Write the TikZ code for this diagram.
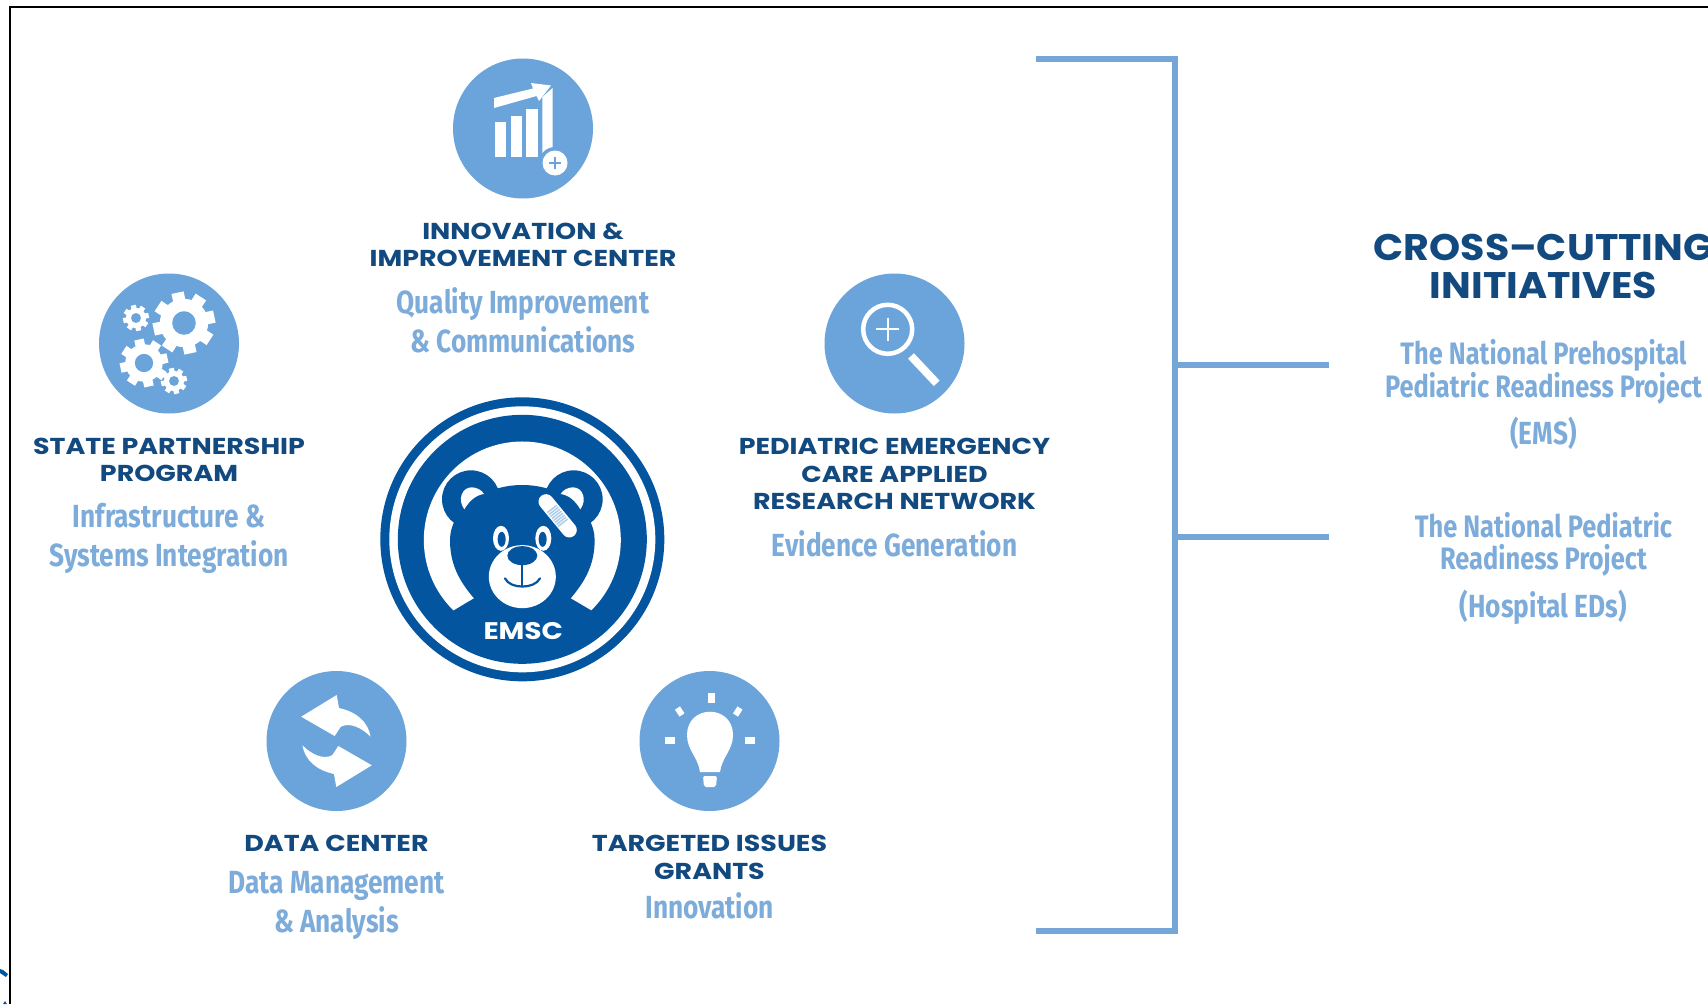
\documentclass[tikz,border=0pt]{standalone}
\usepackage{fontspec}
\newfontfamily\headfont[FakeStretch=1.17]{Poppins}
\newfontfamily\bigfont[FakeStretch=1.07]{Poppins}
\newfontfamily\subfont[FakeStretch=0.82]{Fira Sans}
\definecolor{discblue}{HTML}{6BA4DA}
\definecolor{linkblue}{HTML}{74A6D8}
\definecolor{headblue}{HTML}{12497F}
\definecolor{subblue}{HTML}{7DACDB}
\definecolor{logoblue}{HTML}{04559F}
\tikzset{
  x=1pt,y=-1pt,
  disc/.style={circle,fill=discblue,inner sep=0pt,minimum size=140pt},
  headtext/.style={text=headblue,align=center,inner sep=0pt,font=\headfont\bfseries\fontsize{23}{27.5}\selectfont},
  bighead/.style={text=headblue,align=center,inner sep=0pt,font=\bigfont\bfseries\fontsize{37}{38}\selectfont},
  subtext/.style={text=subblue,align=center,inner sep=0pt,font=\subfont\bfseries\fontsize{32}{39}\selectfont},
  crosstext/.style={text=subblue,align=center,inner sep=0pt,font=\subfont\bfseries\fontsize{31}{32}\selectfont},
  bracket/.style={draw=linkblue,line width=5.5pt},
  gear/.pic={
    \fill[white] (0,0) circle[radius=0.78*\gearR pt];
    \foreach \a in {1,...,\gearN}{
      \fill[white,rotate=\a*360/\gearN+12] (0.7*\gearR pt,-0.2*\gearR pt) rectangle (\gearR pt,0.2*\gearR pt);
    }
    \fill[discblue] (0,0) circle[radius=0.38*\gearR pt];
  }
}
\begin{document}
\begin{tikzpicture}
\path[use as bounding box,clip] (0,0) rectangle (1708,1004);
\fill[white] (0,0) rectangle (1708,1004);
% frame remnants
\draw[black,line width=2.4pt] (10,1004) -- (10,7) -- (1708,7);
\fill[logoblue] (0,969) -- (3,970) -- (8,974) -- (6,977) -- (0,973) -- cycle;
\fill[logoblue] (3,1004) -- (5,1001) -- (7,1004) -- cycle;

% discs
\node[disc] (top) at (523,128.5) {};
\node[disc] (gears) at (169,343.5) {};
\node[disc] (lens) at (894.5,343.5) {};
\node[disc] (data) at (336.5,741) {};
\node[disc] (bulb) at (709.5,741) {};

% chart icon
\fill[white] (495,122) rectangle (506,157);
\fill[white] (510.5,116) rectangle (521.5,157);
\fill[white] (526,109) rectangle (537.5,157);
\fill[white] (542.4,97) -- (552.5,88) -- (552.5,150) -- (542.4,157) -- cycle;
\fill[white] (494,98) -- (533,88.5) -- (531,83) -- (551,85.5) -- (539,101) -- (536.5,96) -- (494,108) -- cycle;
\fill[discblue] (555,163) circle[radius=16pt];
\fill[white] (555,163) circle[radius=12.5pt];
\draw[discblue,line width=2pt] (549,163) -- (561,163) (555,157) -- (555,169);

% gears icon
\def\gearR{31}\def\gearN{8}\pic at (184,323) {gear};
\def\gearR{13}\def\gearN{8}\pic at (136,318) {gear};
\def\gearR{24}\def\gearN{8}\pic at (144,363) {gear};
\def\gearR{13}\def\gearN{8}\pic at (174,381) {gear};

% magnifier icon
\draw[white,line width=4.5pt] (887.7,329.3) circle[radius=24.5pt];
\draw[white,line width=2pt] (876,329.3) -- (899.4,329.3) (887.7,317.6) -- (887.7,341);
\draw[white,line width=8pt] (911,356) -- (936.7,383.3);

% arrows icon
\fill[white] (301.2,716.7) -- (336.7,695) -- (339,708) .. controls (357,712) and (368,722) .. (370.6,736.7)
  .. controls (362,728) and (350,722) .. (340.8,726.7) -- (334.7,736) -- cycle;
\fill[white] (371.8,765.3) -- (336.3,787) -- (334,774) .. controls (316,770) and (305,760) .. (302.4,745.3)
  .. controls (311,754) and (323,760) .. (332.2,755.3) -- (338.3,746) -- cycle;

% bulb icon
\fill[white] (700,772) .. controls (698,757) and (687,750) .. (687,735) .. controls (687,720) and (698,711.7) .. (710,711.7)
  .. controls (722,711.7) and (733,720) .. (733,735) .. controls (733,750) and (722,757) .. (720,772) -- cycle;
\fill[white,rounded corners=2pt] (703,776) -- (717,776) -- (716,787) -- (704,787) -- cycle;
\fill[white] (707.5,693) rectangle (714.5,703);
\fill[white] (665,737) rectangle (675,743.5);
\fill[white] (744.5,737) rectangle (754.5,743.5);
\draw[white,line width=6pt] (677.5,708) -- (682,715);
\draw[white,line width=6pt] (740,708) -- (735.5,715);

% EMSC logo
\begin{scope}[shift={(370,380)},x=0.3333pt,y=-0.3333pt]
  \fill[logoblue] (457,478) circle[radius=142pt];
  \fill[white] (457,478) circle[radius=133pt];
  \fill[logoblue] (457,478) circle[radius=124.5pt];
  \fill[white] (457,480) circle[radius=98.5pt];
  \fill[logoblue] (250,692) -- (312,655) -- (330,630) -- (584,630) -- (602,655) -- (665,692) -- (665,780) -- (250,780) -- cycle;
  \fill[logoblue] (303,358) circle[radius=29pt];
  \fill[logoblue] (611,358) circle[radius=29pt];
  \fill[logoblue] (312,655) .. controls (265,600) and (240,550) .. (240,480) .. controls (240,390) and (340,315) .. (457,315)
    .. controls (574,315) and (674,390) .. (674,480) .. controls (674,550) and (649,600) .. (602,655) -- cycle;
  \fill[white] (283,388) .. controls (262,360) and (275,322) .. (305,322) .. controls (320,322) and (335,330) .. (342,342) .. controls (318,345) and (298,362) .. (283,388) -- cycle;
  \fill[white] (631,388) .. controls (652,360) and (639,322) .. (609,322) .. controls (594,322) and (579,330) .. (572,342) .. controls (596,345) and (616,362) .. (631,388) -- cycle;
  \draw[logoblue,line width=19pt,line cap=round] (528,365) -- (598,450);
  \draw[white,line width=15pt,line cap=round] (528,365) -- (598,450);
  \draw[discblue!55!white,line width=12pt,dash pattern=on 1.5pt off 1pt] (545,385) -- (580,430);
  \fill[white] (393,475) ellipse[x radius=8pt,y radius=12.5pt];
  \fill[white] (520,475) ellipse[x radius=8pt,y radius=12.5pt];
  \fill[logoblue] (395,478) ellipse[x radius=4pt,y radius=7.5pt];
  \fill[logoblue] (518,478) ellipse[x radius=4pt,y radius=7.5pt];
  \fill[white] (457,590) ellipse[x radius=33.5pt,y radius=31.5pt];
  \fill[logoblue] (457,527) ellipse[x radius=15pt,y radius=9.5pt];
  \draw[logoblue,line width=2pt] (457,530) -- (457,620);
  \draw[logoblue,line width=2.2pt,line cap=round] (405,595) .. controls (420,628) and (494,628) .. (510,595);
  \node[text=white,inner sep=0pt,font=\headfont\bfseries\fontsize{24}{24}\selectfont] (emsc) at (460,752) {EMSC};
\end{scope}

% labels
\node[headtext] (toph) at (523,245) {INNOVATION \&\\IMPROVEMENT CENTER};
\node[subtext] (tops) at (523,320) {Quality Improvement\\\& Communications};
\node[headtext] (gearsh) at (169,460) {STATE PARTNERSHIP\\PROGRAM};
\node[subtext] (gearss) at (169,538) {Infrastructure \&\\Systems Integration};
\node[headtext] (lensh) at (894.5,474) {PEDIATRIC EMERGENCY\\CARE APPLIED\\RESEARCH NETWORK};
\node[subtext] (lenss) at (894.5,544) {Evidence Generation};
\node[headtext] (datah) at (336.5,843) {DATA CENTER};
\node[subtext] (datas) at (336.5,905) {Data Management\\\& Analysis};
\node[headtext] (bulbh) at (709.5,857.5) {TARGETED ISSUES\\GRANTS};
\node[subtext] (bulbs) at (709.5,906) {Innovation};

\node[bighead] (cross) at (1543.5,266) {CROSS–CUTTING\\INITIATIVES};
\node[crosstext] (ems) at (1543.5,372) {The National Prehospital\\Pediatric Readiness Project};
\node[subtext] (emsb) at (1543.5,433) {(EMS)};
\node[crosstext] (ped) at (1543.5,544) {The National Pediatric\\Readiness Project};
\node[subtext] (pedb) at (1543.5,607) {(Hospital EDs)};

% bracket
\coordinate (bt) at (1036,59);
\coordinate (bc) at (1175,59);
\coordinate (bd) at (1175,931);
\coordinate (bb) at (1036,931);
\coordinate (j1) at (1175,365);
\coordinate (j2) at (1175,537);
\coordinate (e1) at (1329,365);
\coordinate (e2) at (1329,537);
\draw[bracket] (bt) -- (bc) -- (bd) -- (bb);
\draw[bracket] (j1) -- (e1);
\draw[bracket] (j2) -- (e2);
\end{tikzpicture}
\end{document}
